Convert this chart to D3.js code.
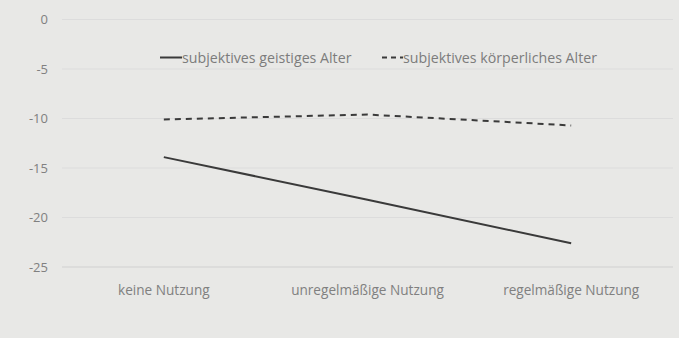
<!DOCTYPE html>
<html><head><meta charset="utf-8">
<script src="https://cdn.jsdelivr.net/npm/d3@7"></script>
<style>body{margin:0;background:#e8e8e6;} svg{display:block;}</style>
</head><body>
<script>
const categories = ["keine Nutzung", "unregelmäßige Nutzung", "regelmäßige Nutzung"];
const seriesNames = ["subjektives geistiges Alter", "subjektives körperliches Alter"];
const geistig = [-13.9, -18.2, -22.6];
const koerperlich = [-10.1, -9.6, -10.7];
const yTicks = [0, -5, -10, -15, -20, -25];

const W = 679, H = 338;
const svg = d3.select("body").append("svg").attr("width", W).attr("height", H);
svg.append("rect").attr("width", W).attr("height", H).attr("fill", "#e8e8e6");

const x = d3.scaleBand().domain(categories).range([62, 673]);
const y = d3.scaleLinear().domain([-25, 0]).range([267, 19.5]);
const font = "'Open Sans', sans-serif";

// gridlines
svg.append("g").selectAll("line").data(yTicks).join("line")
  .attr("x1", 62).attr("x2", 673)
  .attr("y1", d => y(d)).attr("y2", d => y(d))
  .attr("stroke", d => d === -25 ? "#d0d0d0" : "#dcdcdc").attr("stroke-width", 1);

// y axis labels
const yAxis = d3.axisLeft(y).tickValues(yTicks).tickSize(0).tickPadding(0).tickFormat(d => d);
const ya = svg.append("g").attr("transform", "translate(48,0)").call(yAxis);
ya.select(".domain").remove();
ya.selectAll("text").attr("font-family", font).attr("font-size", 13).attr("fill", "#808080");

// x axis labels
const xAxis = d3.axisBottom(x).tickSize(0).tickPadding(0);
const xa = svg.append("g").attr("transform", "translate(0,285)").call(xAxis);
xa.select(".domain").remove();
xa.selectAll("text").attr("font-family", font).attr("font-size", 13.6).attr("fill", "#808080");

const line = d3.line().x((d, i) => x(categories[i]) + x.bandwidth() / 2).y(d => y(d));
svg.append("path").datum(geistig).attr("d", line).attr("fill", "none")
  .attr("stroke", "#3a3a3a").attr("stroke-width", 2);
svg.append("path").datum(koerperlich).attr("d", line).attr("fill", "none")
  .attr("stroke", "#3a3a3a").attr("stroke-width", 2).attr("stroke-dasharray", "6,5");

// legend
const leg = svg.append("g").attr("font-family", font).attr("font-size", 14.2).attr("fill", "#7c7c7c");
leg.append("line").attr("x1", 160).attr("x2", 182).attr("y1", 57.5).attr("y2", 57.5)
  .attr("stroke", "#3a3a3a").attr("stroke-width", 2);
leg.append("text").attr("x", 182).attr("y", 62.5).text(seriesNames[0]);
leg.append("line").attr("x1", 382).attr("x2", 403).attr("y1", 57.5).attr("y2", 57.5)
  .attr("stroke", "#3a3a3a").attr("stroke-width", 2).attr("stroke-dasharray", "5,4");
leg.append("text").attr("x", 403).attr("y", 62.5).text(seriesNames[1]);
</script>
</body></html>
